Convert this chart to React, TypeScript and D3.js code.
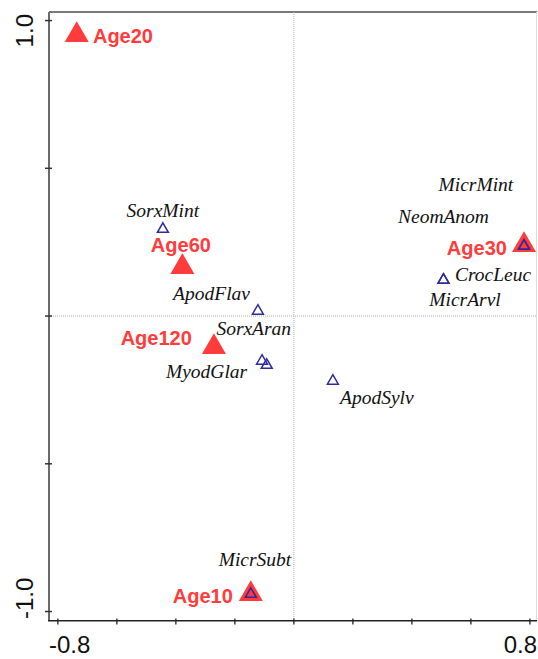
import {useEffect, useRef} from 'react'
import * as d3 from 'd3'

// environmental variables (red filled triangles)
const envNames = ['Age10', 'Age20', 'Age30', 'Age60', 'Age120']
const envX = [-0.146, -0.736, 0.78, -0.378, -0.271]
const envY = [-0.941, 0.951, 0.24, 0.166, -0.105]
// label anchor points in axis units
const envLabelX = [-0.207, -0.681, 0.722, -0.383, -0.346]
const envLabelY = [-0.97, 0.925, 0.206, 0.217, -0.098]
const envAnchor = ['end', 'start', 'end', 'middle', 'end']

// species (blue open triangles)
const spNames = ['SorxMint', 'ApodFlav', 'SorxAran', 'MyodGlar', 'ApodSylv', 'MicrMint', 'NeomAnom', 'CrocLeuc', 'MicrArvl', 'MicrSubt']
const spX = [-0.444, -0.122, -0.092, -0.108, 0.132, 0.78, 0.78, 0.507, 0.507, -0.146]
const spY = [0.294, 0.017, -0.166, -0.152, -0.22, 0.237, 0.237, 0.122, 0.122, -0.941]
const spLabelX = [-0.444, -0.279, -0.136, -0.296, 0.281, 0.617, 0.507, 0.675, 0.58, -0.132]
const spLabelY = [0.335, 0.054, -0.064, -0.21, -0.298, 0.423, 0.315, 0.119, 0.035, -0.846]

const xTicks = [-0.8, -0.6, -0.4, -0.2, 0, 0.2, 0.4, 0.6, 0.8]
const yTicks = [-1.0, -0.5, 0, 0.5, 1.0]

const W = 538, H = 659

const App = () => {
	const ref = useRef<SVGSVGElement>(null)

	useEffect(() => {
		const svg = d3.select(ref.current)
		svg.selectAll('*').remove()

		const x = d3.scaleLinear().domain([-0.83, 0.824]).range([49, 537])
		const y = d3.scaleLinear().domain([-1.031, 1.029]).range([620.7, 12])

		const red = '#ff3b3b'
		const blue = '#2e2a9e'

		// frame
		svg.append('line').attr('x1', 49).attr('x2', 537).attr('y1', 12).attr('y2', 12)
			.attr('stroke', '#7a7a7a').attr('stroke-width', 2)
		svg.append('line').attr('x1', 536.5).attr('x2', 536.5).attr('y1', 12).attr('y2', 620)
			.attr('stroke', '#dddddd').attr('stroke-width', 1)

		// zero lines
		svg.append('line').attr('x1', x(0)).attr('x2', x(0)).attr('y1', 12).attr('y2', 620)
			.attr('stroke', '#b0b0b0').attr('stroke-dasharray', '1,1')
		svg.append('line').attr('x1', 49).attr('x2', 537).attr('y1', y(0)).attr('y2', y(0))
			.attr('stroke', '#b0b0b0').attr('stroke-dasharray', '1,1')

		// left axis
		svg.append('line').attr('x1', 49).attr('x2', 49).attr('y1', 12).attr('y2', 621)
			.attr('stroke', '#6a6a6a').attr('stroke-width', 2)
		svg.selectAll('.ytick').data(yTicks).enter().append('line')
			.attr('x1', 45).attr('x2', 52).attr('y1', d => y(d)).attr('y2', d => y(d))
			.attr('stroke', '#333').attr('stroke-width', 1.5)

		// bottom axis
		svg.append('line').attr('x1', 48).attr('x2', 537).attr('y1', 620.7).attr('y2', 620.7)
			.attr('stroke', '#222').attr('stroke-width', 1.5)
		svg.selectAll('.xtick').data(xTicks).enter().append('line')
			.attr('x1', d => x(d)).attr('x2', d => x(d)).attr('y1', 618.5).attr('y2', 624.5)
			.attr('stroke', '#222').attr('stroke-width', 1.3)

		const tickFont = 'Liberation Sans, Arial, sans-serif'
		svg.append('text').text('-0.8').attr('x', 49).attr('y', 653)
			.attr('font-family', tickFont).attr('font-size', 24).attr('fill', '#111')
		svg.append('text').text('0.8').attr('x', 537).attr('y', 653).attr('text-anchor', 'end')
			.attr('font-family', tickFont).attr('font-size', 24).attr('fill', '#111')
		svg.append('text').text('1.0').attr('transform', `translate(33,14) rotate(-90)`)
			.attr('text-anchor', 'end')
			.attr('font-family', tickFont).attr('font-size', 24).attr('fill', '#111')
		svg.append('text').text('-1.0').attr('transform', `translate(33,619) rotate(-90)`)
			.attr('text-anchor', 'start')
			.attr('font-family', tickFont).attr('font-size', 24).attr('fill', '#111')

		const bigTri = d3.symbol().type(d3.symbolTriangle).size(250)
		const smallTri = d3.symbol().type(d3.symbolTriangle).size(52)

		// env triangles
		svg.selectAll('.env').data(envNames).enter().append('path')
			.attr('d', bigTri)
			.attr('transform', (d, i) => `translate(${x(envX[i])},${y(envY[i])})`)
			.attr('fill', red)

		// species triangles
		svg.selectAll('.sp').data(spNames).enter().append('path')
			.attr('d', smallTri)
			.attr('transform', (d, i) => `translate(${x(spX[i])},${y(spY[i])})`)
			.attr('fill', 'none').attr('stroke', blue).attr('stroke-width', 1.5)

		// species labels
		svg.selectAll('.splab').data(spNames).enter().append('text')
			.text(d => d)
			.attr('x', (d, i) => x(spLabelX[i]))
			.attr('y', (d, i) => y(spLabelY[i]))
			.attr('text-anchor', 'middle')
			.attr('font-family', 'Liberation Serif, Times New Roman, serif')
			.attr('font-style', 'italic').attr('font-size', 19.5).attr('fill', '#111')

		// env labels
		svg.selectAll('.envlab').data(envNames).enter().append('text')
			.text(d => d)
			.attr('x', (d, i) => x(envLabelX[i]))
			.attr('y', (d, i) => y(envLabelY[i]))
			.attr('text-anchor', (d, i) => envAnchor[i])
			.attr('font-family', 'Liberation Sans, Arial, sans-serif')
			.attr('font-weight', 'bold').attr('font-size', 20).attr('fill', red)
	}, [])

	return (
		<svg ref={ref} width={W} height={H} style={{position: 'absolute', left: 0, top: 0, background: '#fff'}} />
	)
}

export default App
